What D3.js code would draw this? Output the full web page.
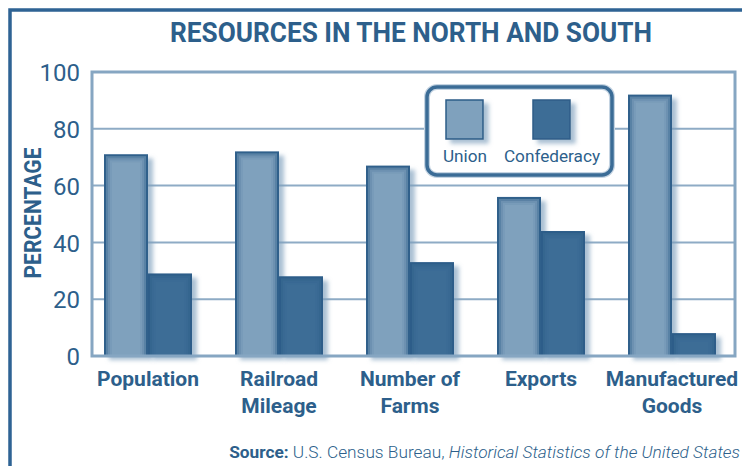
<html>
<head>
	<script src="https://d3js.org/d3.v7.min.js"></script>
	<style>
		body { margin: 0; background: #fff; }
		text { font-family: Roboto, "Noto Sans", sans-serif; fill: #2d5f8b; }
	</style>
</head>
<body>
	<script>
		// data
		var categories = ["Population", "Railroad Mileage", "Number of Farms", "Exports", "Manufactured Goods"];
		var labelLines = [["Population"], ["Railroad", "Mileage"], ["Number of", "Farms"], ["Exports"], ["Manufactured", "Goods"]];
		var union = [71, 72, 67, 56, 92];
		var confederacy = [29, 28, 33, 44, 8];
		var series = ["Union", "Confederacy"];
		var yTicks = [0, 20, 40, 60, 80, 100];

		var w = 742, h = 466;
		var pLeft = 92, pRight = 735, pTop = 72, pBottom = 356; // plot box
		var colors = {Union: "#7fa1bd", Confederacy: "#3d6d96"};
		var edge = "#2c5d88";

		var svg = d3.select("body").append("svg").attr("width", w).attr("height", h);
		var defs = svg.append("defs");
		var f = defs.append("filter").attr("id", "shadow").attr("x", "-20%").attr("y", "-20%").attr("width", "150%").attr("height", "150%");
		f.append("feDropShadow").attr("dx", 5).attr("dy", 4).attr("stdDeviation", 2.2)
			.attr("flood-color", "#7d9fbc").attr("flood-opacity", 0.65);

		// outer frame
		svg.append("path").attr("d", "M10," + h + "V10H" + w)
			.attr("fill", "none").attr("stroke", "#2e6394").attr("stroke-width", 3.5);

		// title
		svg.append("text").attr("x", 411).attr("y", 42).attr("text-anchor", "middle")
			.attr("font-size", 28).attr("font-weight", "bold")
			.attr("textLength", 482).attr("lengthAdjust", "spacingAndGlyphs")
			.text("RESOURCES IN THE NORTH AND SOUTH");

		var y = d3.scaleLinear().domain([0, 100]).range([pBottom, pTop]);
		var x = d3.scaleBand().domain(categories).range([104, 716]).paddingInner(43 / 131).paddingOuter(0);
		var xs = d3.scaleBand().domain(series).range([0, x.bandwidth()]);

		// gridlines
		svg.selectAll(".grid").data(yTicks.filter(function(d){ return d > 0 && d < 100; }))
			.enter().append("line")
			.attr("x1", pLeft).attr("x2", pRight)
			.attr("y1", function(d){ return y(d); }).attr("y2", function(d){ return y(d); })
			.attr("stroke", "#8eabc5").attr("stroke-width", 2);

		// y axis labels
		var yAxis = svg.append("g").attr("transform", "translate(" + (pLeft - 12) + ",0)")
			.call(d3.axisLeft(y).tickValues(yTicks).tickSize(0).tickPadding(0));
		yAxis.select(".domain").remove();
		yAxis.selectAll("text").attr("font-size", 24).attr("font-family", "Roboto").attr("font-weight", 400)
			.attr("fill", "#2d5f8b").attr("dy", "0.36em");

		svg.append("text").attr("transform", "translate(41,213) rotate(-90)").attr("text-anchor", "middle")
			.attr("font-size", 24).attr("font-weight", "bold")
			.attr("textLength", 131).attr("lengthAdjust", "spacingAndGlyphs")
			.text("PERCENTAGE");

		// bars
		var rows = [];
		categories.forEach(function(c, i){
			rows.push({cat: c, s: "Union", v: union[i]});
			rows.push({cat: c, s: "Confederacy", v: confederacy[i]});
		});
		var bars = svg.selectAll(".bar").data(rows).enter().append("g")
			.attr("transform", function(d){ return "translate(" + (x(d.cat) + xs(d.s)) + "," + y(d.v) + ")"; });
		bars.append("rect")
			.attr("width", xs.bandwidth()).attr("height", function(d){ return pBottom - y(d.v); })
			.attr("fill", function(d){ return colors[d.s]; })
			.attr("filter", "url(#shadow)");
		[[1, 0.95], [3, 0.45], [5, 0.22], [7, 0.08]].forEach(function(p){
			bars.append("rect")
				.attr("x", p[0]).attr("y", p[0])
				.attr("width", xs.bandwidth() - 2 * p[0])
				.attr("height", function(d){ return Math.max(0, pBottom - y(d.v) - p[0]); })
				.attr("fill", "none").attr("stroke", edge).attr("stroke-width", 2).attr("stroke-opacity", p[1]);
		});

		// plot frame
		svg.append("rect").attr("x", pLeft).attr("y", pTop).attr("width", pRight - pLeft).attr("height", pBottom - pTop)
			.attr("fill", "none").attr("stroke", "#86a6c2").attr("stroke-width", 3);

		// x labels
		var xl = svg.selectAll(".xl").data(categories).enter().append("text")
			.attr("text-anchor", "middle").attr("font-size", 21).attr("font-weight", "bold")
			.attr("transform", function(d){ return "translate(" + (x(d) + x.bandwidth() / 2) + ",386)"; });
		xl.selectAll("tspan").data(function(d, i){ return labelLines[i]; }).enter().append("tspan")
			.attr("x", 0).attr("dy", function(d, i){ return i ? 27 : 0; }).text(function(d){ return d; });

		// legend
		var lg = svg.append("g");
		lg.append("rect").attr("x", 427).attr("y", 87).attr("width", 185).attr("height", 88).attr("rx", 10)
			.attr("fill", "#fff").attr("stroke", "#c5d4e2").attr("stroke-width", 6);
		lg.append("rect").attr("x", 427).attr("y", 87).attr("width", 185).attr("height", 88).attr("rx", 10)
			.attr("fill", "none").attr("stroke", "#3b6c96").attr("stroke-width", 3.5);
		var lx = [446, 533];
		series.forEach(function(s, i){
			lg.append("rect").attr("x", lx[i]).attr("y", 100).attr("width", 37).attr("height", 39)
				.attr("fill", colors[s]).attr("stroke", edge).attr("stroke-width", 1.5)
				.attr("filter", "url(#shadow)");
			lg.append("text").attr("x", lx[i] + 19).attr("y", 162).attr("text-anchor", "middle")
				.attr("font-size", 17.2).text(s);
		});

		// source
		var src = svg.append("text").attr("x", 740).attr("y", 458).attr("text-anchor", "end").attr("font-size", 17.3);
		src.append("tspan").attr("font-weight", "bold").text("Source:");
		src.append("tspan").attr("font-weight", 300).text(" U.S. Census Bureau, ");
		src.append("tspan").attr("font-weight", 300).attr("font-style", "italic").text("Historical Statistics of the United States");
	</script>
</body>
</html>
